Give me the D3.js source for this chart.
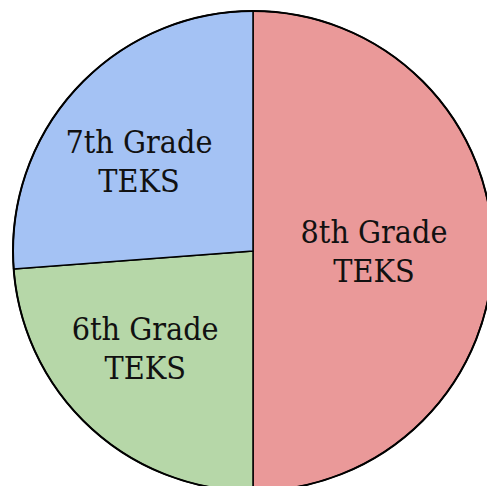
<!DOCTYPE html>
<html>
<head>
<meta charset="utf-8">
<script src="https://cdn.jsdelivr.net/npm/d3@7"></script>
<style>
  html, body { margin: 0; padding: 0; background: #fff; overflow: hidden; }
  svg { display: block; }
  .label { font-family: "DejaVu Serif Condensed", "DejaVu Serif", serif; font-size: 32px; fill: #111; }
</style>
</head>
<body>
<script>
 const grades = ['8th Grade', '6th Grade', '7th Grade'];
 const counts = [21, 10, 11];
 const colors = ['#ea9999', '#b6d7a8', '#a4c2f4'];

 const width = 487;
 const height = 486;
 const radius = 240;

 const svg = d3.select('body').append('svg')
   .attr('width', width)
   .attr('height', height);

 const g = svg.append('g')
   .attr('transform', 'translate(253,251)');

 const pie = d3.pie().sort(null).value(d => d);
 const arcs = pie(counts);

 const arc = d3.arc().innerRadius(0).outerRadius(radius);

 g.selectAll('path.slice')
   .data(arcs)
   .join('path')
   .attr('class', 'slice')
   .attr('d', arc)
   .attr('fill', (d, i) => colors[i])
   .attr('stroke', '#000')
   .attr('stroke-width', 1.5);

 // outer rim is a bit heavier
 g.append('circle')
   .attr('r', radius)
   .attr('fill', 'none')
   .attr('stroke', '#000')
   .attr('stroke-width', 2);

 // big slice gets its label nearer the middle
 const labelR = d => (d.endAngle - d.startAngle) > Math.PI * 0.9 ? 121 : 145;
 // labels lean a little toward the horizontal
 const labelA = d => {
   const mid = (d.startAngle + d.endAngle) / 2;
   return mid + (1.5 * Math.PI - mid) * 0.11 * (mid > Math.PI ? 1 : 0);
 };

 const labels = g.selectAll('text.label')
   .data(arcs)
   .join('text')
   .attr('class', 'label')
   .attr('text-anchor', 'middle')
   .attr('transform', d => {
     const a = labelA(d);
     const r = labelR(d);
     return `translate(${Math.sin(a) * r},${-Math.cos(a) * r})`;
   });

 labels.append('tspan')
   .attr('x', 0)
   .attr('y', -8)
   .text((d, i) => grades[i]);

 labels.append('tspan')
   .attr('x', 0)
   .attr('y', 31)
   .text('TEKS');
</script>
</body>
</html>
